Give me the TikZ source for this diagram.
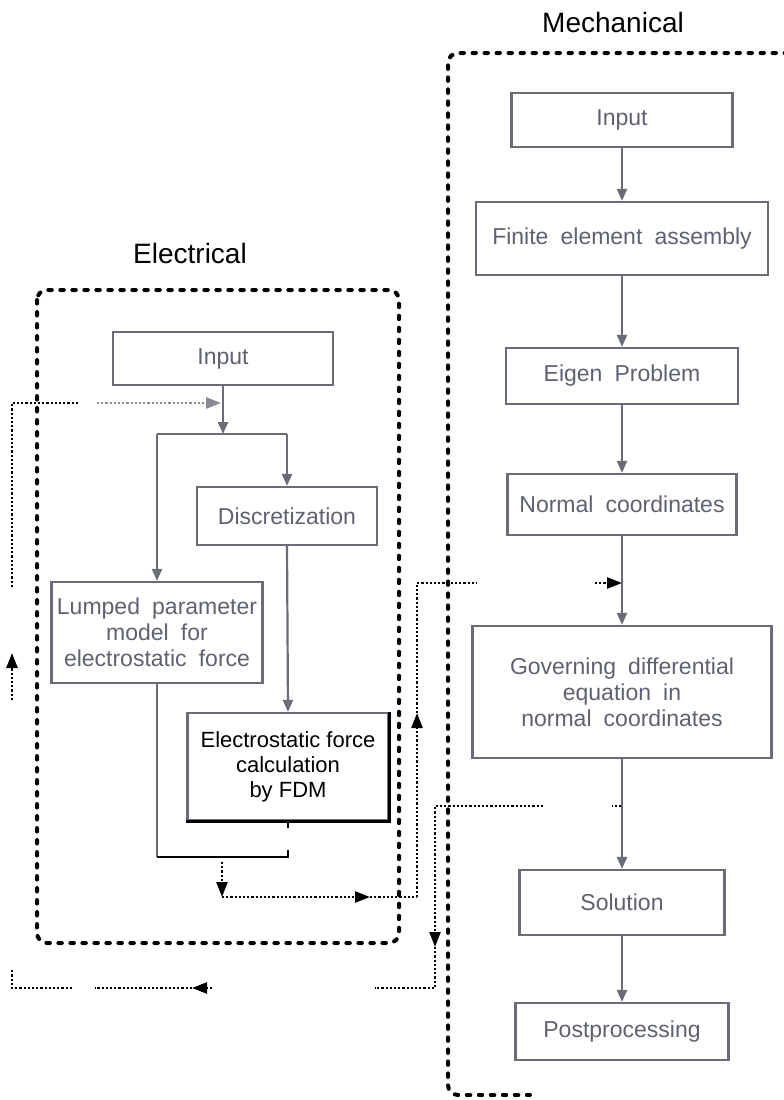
\documentclass[tikz,border=0pt]{standalone}
\usepackage{fontspec}
\setmainfont{Liberation Sans}
\newfontfamily\gfont[WordSpace=1.9]{Liberation Sans}
\usetikzlibrary{arrows.meta}
\definecolor{gtext}{HTML}{5E6172}
\definecolor{gline}{HTML}{6A6C7A}
\begin{document}
\begin{tikzpicture}[x=1pt,y=-1pt,
  gbox/.style={draw=gline, line width=2.2pt, text=gtext, align=center, inner sep=0pt, font=\gfont\fontsize{23}{26}\selectfont},
  garr/.style={draw=gline, line width=2.2pt, -{Triangle[length=12pt,width=10pt]}},
  gln/.style={draw=gline, line width=2.2pt},
  bound/.style={draw=black, line width=4pt, line cap=round, dash pattern=on 3.5pt off 8.5pt, rounded corners=10pt},
  fb/.style={draw=black, line width=2.4pt, dash pattern=on 2.2pt off 2pt},
  fbarr/.style={fb, -{Triangle[length=15pt,width=11pt]}},
  title/.style={font=\fontsize{28}{32}\selectfont, text=black, inner sep=0pt}
]
\useasboundingbox (0,0) rectangle (784,1100);
\clip (0,0) rectangle (784,1100);

% titles
\node[title] (tE) at (190,253) {Electrical};
\node[title] (tM) at (613,22) {Mechanical};

% boundaries
\draw[bound] (37,290) rectangle (399,943);
\draw[bound] (800,53) -- (448,53) -- (448,1095) -- (530,1095);

% electrical nodes
\node[gbox, minimum width=220pt, minimum height=53pt] (eIn) at (223,358.5) {Input};
\node[gbox, minimum width=180pt, minimum height=58pt] (disc) at (287,516) {Discretization};
\node[gbox, minimum width=211pt, minimum height=101pt] (lump) at (157,632.5) {Lumped parameter\\model for\\electrostatic force};
\node[gbox, text=black, minimum width=201pt, minimum height=107pt, font=\fontsize{22}{25}\selectfont] (efdm) at (288,766.5) {Electrostatic force\\calculation\\by FDM};
\draw[line width=2.8pt] (efdm.north east) -- (efdm.south east) -- (efdm.south west);

% mechanical nodes
\node[gbox, minimum width=221pt, minimum height=54pt] (mIn) at (622,120) {Input};
\node[gbox, minimum width=292pt, minimum height=73pt] (fea) at (622,238.5) {Finite element assembly};
\node[gbox, minimum width=232pt, minimum height=56pt] (eig) at (622,376) {Eigen Problem};
\node[gbox, minimum width=229pt, minimum height=61pt] (nc) at (622,504.5) {Normal coordinates};
\node[gbox, minimum width=299pt, minimum height=132pt] (gov) at (622,692) {Governing differential\\equation in\\normal coordinates};
\node[gbox, minimum width=205pt, minimum height=65pt] (sol) at (622,902.5) {Solution};
\node[gbox, minimum width=213pt, minimum height=57pt] (post) at (622,1031.5) {Postprocessing};

% electrical connectors
\coordinate (sp) at (223,434);
\draw[garr] (eIn.south) -- (sp);
\draw[gln] (lump.north |- sp) -- (disc.north |- sp);
\draw[garr] (lump.north |- sp) -- (lump.north);
\draw[garr] (disc.north |- sp) -- (disc.north);
\draw[garr] (disc.south) -- (efdm.north);
\coordinate (mg) at (222,857);
\draw[gln] (lump.south) -- (lump.south |- mg);
\draw[line width=2.8pt] (lump.south |- mg) -- (efdm.south |- mg) -- ++(0,-7);
\draw[line width=2.2pt] (efdm.south) -- ++(0,7);

% mechanical connectors
\draw[garr] (mIn) -- (fea);
\draw[garr] (fea) -- (eig);
\draw[garr] (eig) -- (nc);
\draw[garr] (nc) -- (gov);
\draw[garr] (gov) -- (sol);
\draw[garr] (sol) -- (post);

% electrical -> mechanical coupling
\coordinate (c0) at (222,862);
\coordinate (c1) at (222,897);
\coordinate (a2) at (370,897);
\coordinate (c2) at (417,897);
\coordinate (a3) at (417,713);
\coordinate (c3) at (417,583);
\coordinate (g1) at (477,583);
\coordinate (g2) at (595,583);
\coordinate (inj) at (622,583);
\draw[fbarr] (c0) -- (c1);
\draw[fbarr] (c1) -- (a2);
\draw[fb] (a2) -- (c2);
\draw[fbarr] (c2) -- (a3);
\draw[fb] (a3) -- (c3) -- (g1);
\draw[fbarr] (g2) -- (inj);

% mechanical -> electrical coupling
\coordinate (tap) at (621,806);
\coordinate (t0) at (612,806);
\coordinate (d1) at (543,806);
\coordinate (d2) at (435,806);
\coordinate (a4) at (435,947);
\coordinate (d3) at (435,988);
\coordinate (e1) at (375,988);
\coordinate (e2) at (212,988);
\coordinate (e3) at (192,988);
\coordinate (e4) at (95,988);
\coordinate (e5) at (72,988);
\coordinate (e6) at (12,988);
\coordinate (e7) at (12,970);
\coordinate (e8) at (12,700);
\coordinate (e9) at (12,653);
\coordinate (e10) at (12,587);
\coordinate (e11) at (12,403);
\coordinate (e12) at (78,403);
\coordinate (e13) at (97,403);
\coordinate (e14) at (221,403);
\draw[fb] (tap) -- (t0);
\draw[fbarr] (d1) -- (d2) -- (a4);
\draw[fb] (a4) -- (d3) -- (e1);
\draw[fbarr] (e2) -- (e3);
\draw[fb] (e3) -- (e4);
\draw[fb] (e5) -- (e6) -- (e7);
\draw[fbarr] (e8) -- (e9);
\draw[fb] (e10) -- (e11) -- (e12);
\draw[fbarr, draw=gline!80] (e13) -- (e14);
\end{tikzpicture}
\end{document}
